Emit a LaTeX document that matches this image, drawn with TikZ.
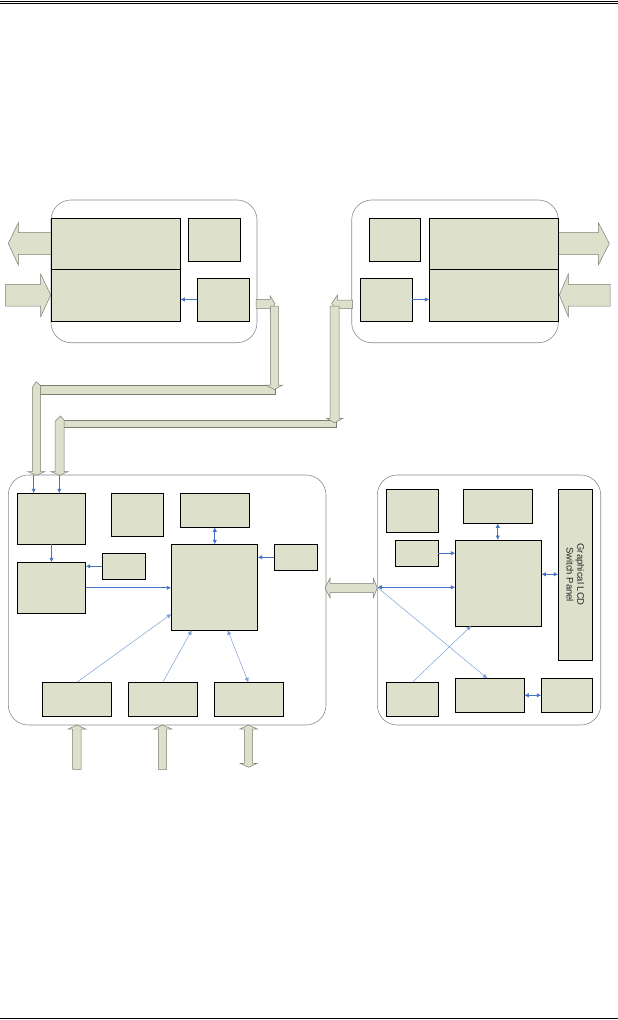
\documentclass[tikz,border=0pt]{standalone}
\usepackage{fontspec}
\setmainfont{Liberation Sans}
\usetikzlibrary{arrows.meta}
\definecolor{boxfill}{RGB}{221,224,203}
\definecolor{connblue}{RGB}{68,114,196}
\definecolor{connlight}{RGB}{125,160,218}
\definecolor{framegray}{RGB}{140,140,140}
\definecolor{arrowedge}{RGB}{125,125,115}
\tikzset{
  blk/.style={draw=black, line width=0.9pt, fill=boxfill, inner sep=0pt, outer sep=0pt},
  container/.style={draw=framegray, line width=0.6pt, rounded corners=20pt},
  fat/.style={fill=boxfill, draw=arrowedge, line width=0.5pt, line join=miter},
  conn/.style={draw=connblue, line width=0.9pt, -{Latex[length=4.5pt,width=4.5pt]}},
  conndbl/.style={draw=connblue, line width=0.9pt, {Latex[length=4.5pt,width=4.5pt]}-{Latex[length=4.5pt,width=4.5pt]}},
  connthin/.style={draw=connlight, line width=0.5pt, -{Latex[length=4.5pt,width=4.5pt]}},
  connthindbl/.style={draw=connlight, line width=0.5pt, {Latex[length=4.5pt,width=4.5pt]}-{Latex[length=4.5pt,width=4.5pt]}},
}
\newcommand{\mkbox}[5]{\node[blk, minimum width={(#4-#2)*1pt}, minimum height={(#5-#3)*1pt}] (#1) at ({(#2+#4)/2},{(#3+#5)/2}) {};}
\begin{document}
\begin{tikzpicture}[x=1pt,y=-1pt]
\path[use as bounding box, fill=white] (0,0) rectangle (618,1020);
% header and footer rules
\draw[line width=1.3pt] (0,1.3) -- (618,1.3);
\draw[line width=0.8pt] (0,3.8) -- (618,3.8);
\draw[line width=1pt] (0,1018.5) -- (618,1018.5);

% containers
\draw[container] (51,200) rectangle (257,342.7);
\draw[container] (351.7,200) rectangle (558.3,342.7);
\draw[container] (8.3,475) rectangle (326,725);
\draw[container] (377.3,475) rectangle (600.7,725);

% fat arrows, top-left block
\draw[fat] (51,232.7) -- (18.3,232.7) -- (18.3,222.7) -- (8.3,243.5) -- (18.3,265) -- (18.3,254.3) -- (51,254.3) -- cycle;
\draw[fat] (5.7,284.3) -- (40.7,284.3) -- (40.7,274) -- (50.7,295) -- (40.7,316.7) -- (40.7,306) -- (5.7,306) -- cycle;
% fat arrows, top-right block
\draw[fat] (558.3,232.7) -- (598.3,232.7) -- (598.3,222.7) -- (609.3,243.5) -- (598.3,265) -- (598.3,254.3) -- (558.3,254.3) -- cycle;
\draw[fat] (610,284.3) -- (568.3,284.3) -- (568.3,274) -- (559.3,295) -- (568.3,316.7) -- (568.3,306) -- (610,306) -- cycle;

% bus 1 (from top-left block)
\draw[fat] (40,385.7) -- (275,385.7) -- (275,394.3) -- (40,394.3) -- cycle;
\draw[fat] (256,299.3) -- (270,299.3) -- (270,295.5) -- (275,303.8) -- (270,312) -- (270,308.3) -- (256,308.3) -- cycle;
\draw[fat] (270.3,306) -- (278.3,306) -- (278.3,385) -- (282.7,385) -- (274.3,389.5) -- (265.7,385) -- (270.3,385) -- cycle;
\draw[fat] (32.3,387.5) -- (36.2,381.7) -- (40.7,385.7) -- (40.7,471.5) -- (45,471.5) -- (36.5,475.3) -- (27.7,471.5) -- (32.3,471.5) -- cycle;

% bus 2 (from top-right block)
\draw[fat] (63.3,420) -- (336.7,420) -- (336.7,427.7) -- (63.3,427.7) -- cycle;
\draw[fat] (352.5,300) -- (337.3,300) -- (337.3,295) -- (331.7,303.5) -- (337.3,311.7) -- (337.3,308.3) -- (352.5,308.3) -- cycle;
\draw[fat] (330,306) -- (339,306) -- (339,418.3) -- (343,418.3) -- (334.5,422.7) -- (326.5,418.3) -- (330,418.3) -- cycle;
\draw[fat] (55,421.5) -- (60.5,416) -- (64,420) -- (64,471.5) -- (68.3,471.5) -- (59.5,475.3) -- (50.7,471.5) -- (55,471.5) -- cycle;

% double arrow between lower blocks
\draw[fat] (330,583.3) -- (373.3,583.3) -- (373.3,578.3) -- (377.3,588) -- (373.3,597.7) -- (373.3,592.7) -- (330,592.7) -- (330,597.7) -- (325,588) -- (330,578.3) -- cycle;

% bottom arrows
\draw[fat] (72.7,769.3) -- (72.7,729) -- (68.3,729) -- (76.8,725) -- (85.7,729) -- (81,729) -- (81,769.3) -- cycle;
\draw[fat] (158.3,769.3) -- (158.3,729) -- (154,729) -- (162.5,725) -- (171.7,729) -- (166.7,729) -- (166.7,769.3) -- cycle;
\draw[fat] (244.3,729) -- (240,729) -- (248.5,725) -- (257.3,729) -- (252.7,729) -- (252.7,763.3) -- (257.3,763.3) -- (248.5,767.3) -- (240,763.3) -- (244.3,763.3) -- cycle;

% top-left block boxes
\mkbox{tlA}{51}{218.3}{180.3}{269.3}
\mkbox{tlB}{51}{269.3}{180.3}{321}
\mkbox{tlC}{188.3}{218.3}{240.3}{261}
\mkbox{tlD}{197.3}{278.3}{249.3}{321}
% top-right block boxes
\mkbox{trA}{429.3}{218.3}{558.3}{269.3}
\mkbox{trB}{429.3}{269.3}{558.3}{321}
\mkbox{trC}{369.3}{218.3}{420.7}{261}
\mkbox{trD}{360}{278.3}{412.3}{321}

% bottom-left block boxes
\mkbox{A}{17.3}{493.3}{85.7}{544.3}
\mkbox{B}{111.3}{493.3}{163.3}{536.3}
\mkbox{C}{180.3}{493.3}{249.3}{527.3}
\mkbox{D}{17.3}{562.3}{85.7}{613.3}
\mkbox{E}{102.3}{553.3}{145.7}{579.3}
\mkbox{F}{171.3}{544.3}{257.7}{630.3}
\mkbox{G}{274.3}{544.3}{317.7}{570.3}
\mkbox{H}{42.3}{682.3}{111.3}{716.7}
\mkbox{I}{128.3}{682.3}{197.3}{716.7}
\mkbox{J}{214.3}{682.3}{283.3}{716.7}

% bottom-right block boxes
\mkbox{K}{386.3}{489}{438.3}{532.3}
\mkbox{L}{463.3}{489}{532.3}{523.3}
\mkbox{M}{395.3}{540}{438.3}{566.3}
\mkbox{N}{455.3}{540}{541.3}{626}
\mkbox{P}{558.3}{489}{592.3}{660.3}
\mkbox{Q}{386.3}{682.3}{438.3}{716.7}
\mkbox{R}{455.3}{678.3}{524.3}{712.3}
\mkbox{S}{541.3}{678.3}{592.3}{712.3}
\node[rotate=-90, align=center, font=\fontsize{9.5}{10.7}\selectfont, text=black!85] (Ptext) at (P.center) {Graphical LCD\\Switch Panel};

% connectors, top blocks
\draw[conn] (tlD.west |- 0,299.5) -- (tlB.east |- 0,299.5);
\draw[conn] (trD.east |- 0,299.5) -- (trB.west |- 0,299.5);

% connectors, bottom-left block
\coordinate (busA) at (33.7,475);
\coordinate (busB) at (59.3,475);
\draw[conn] (busA) -- (busA |- A.north);
\draw[conn] (busB) -- (busB |- A.north);
\draw[conn] (A.south) -- (D.north);
\draw[conn] (E.west) -- (D.east |- E.west);
\draw[conn] (D.east) -- (F.west |- D.east);
\draw[conndbl] (C.south) -- (C.south |- F.north);
\draw[conn] (G.west) -- (F.east |- G.west);
\draw[connthin] (H.north) -- ([yshift=16.3pt]F.south west);
\draw[connthin] (I.north) -- ([xshift=20.4pt]F.south west);
\draw[connthindbl] ([xshift=-0.5pt]J.north) -- ([xshift=56.4pt]F.south west);

% connectors, bottom-right block
\coordinate (rin) at (377.3,587.3);
\draw[conndbl] (L.south) -- (L.south |- N.north);
\draw[conn] (M.east) -- (N.west |- M.east);
\draw[conndbl] (rin) -- (N.west |- rin);
\draw[conndbl] ([yshift=8.7pt]N.east) -- ([yshift=8.7pt]N.east -| P.west);
\draw[connthin] (Q.north) -- ([xshift=15.7pt]N.south west);
\draw[connthin] (rin) -- ([xshift=32pt]R.north west);
\draw[conndbl] (R.east) -- (S.west);
\end{tikzpicture}
\end{document}
